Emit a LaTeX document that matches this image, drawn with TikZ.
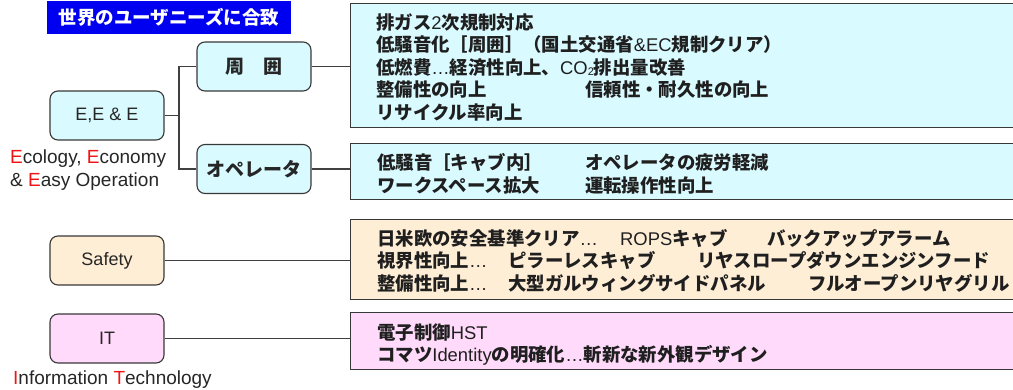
\documentclass[tikz,border=0pt]{standalone}
\usepackage{fontspec}
\setmainfont{Liberation Sans}
\newfontfamily\jpf{Noto Sans CJK JP}
\newfontfamily\latf{Liberation Sans}
\newcommand\latx[1]{{\latf\mdseries #1}}
\newcommand\subtwo{\raisebox{-1pt}{\fontsize{11}{11}\selectfont 2}}
\definecolor{cyanbg}{RGB}{217,250,255}
\definecolor{peachbg}{RGB}{255,238,214}
\definecolor{pinkbg}{RGB}{255,218,250}
\definecolor{titleblue}{RGB}{0,0,240}
\definecolor{redE}{RGB}{240,20,20}
\tikzset{
  rbox/.style={draw=black!78, line width=1.1pt, rounded corners=8pt, minimum width=114pt, minimum height=49pt, inner sep=0pt, text=black!85},
  wbox/.style={draw=black!78, line width=1.1pt, anchor=north west, minimum width=700pt, inner sep=0pt},
  conn/.style={draw=black!75, line width=1.1pt},
  jt/.style={anchor=base west, inner sep=0pt, text=black!88, font=\jpf\bfseries\fontsize{18.4}{22.5}\selectfont},
  lab/.style={anchor=base west, inner sep=0pt, text=black!85, font=\latf\fontsize{19}{23}\selectfont},
  lbl/.style={font=\latf\fontsize{18}{20}\selectfont},
  jlbl/.style={font=\jpf\bfseries\fontsize{19}{20}\selectfont}
}
\begin{document}
\begin{tikzpicture}[x=1pt,y=-1pt]
\useasboundingbox (0,0) rectangle (1013,389);
\clip (0,0) rectangle (1013,389);

% title
\node[fill=titleblue, minimum width=244pt, minimum height=33pt, inner sep=0pt, text=white,
      font=\jpf\bfseries\fontsize{18.5}{20}\selectfont] (title) at (169,17.5) {世界のユーザニーズに合致};

% right boxes
\node[wbox, fill=cyanbg, minimum height=124pt] (r1) at (350,3) {};
\node[wbox, fill=cyanbg, minimum height=56pt] (r2) at (350,143) {};
\node[wbox, fill=peachbg, minimum height=80pt] (r3) at (350,219) {};
\node[wbox, fill=pinkbg, minimum height=57pt] (r4) at (350,312) {};

% left boxes
\node[rbox, fill=cyanbg, lbl] (eee) at (107,115.5) {E,E \& E};
\node[rbox, fill=cyanbg, jlbl] (zhou) at (254,66.5) {周　囲};
\node[rbox, fill=cyanbg, jlbl] (ope) at (254,169) {オペレータ};
\node[rbox, fill=peachbg, lbl] (safe) at (107,260.5) {Safety};
\node[rbox, fill=pinkbg, lbl] (it) at (107,338.5) {IT};

% connectors
\coordinate (br) at (179,115.5);
\draw[conn] (eee.east) -- (br);
\draw[conn] (zhou.west) -| (br) |- (ope.west);
\draw[conn] (zhou.east) -- (zhou.east -| r1.west);
\draw[conn] (ope.east) -- (ope.east -| r2.west);
\draw[conn] (safe.east) -- (safe.east -| r3.west);
\draw[conn] (it.east) -- (it.east -| r4.west);

% side captions
\node[lab] (eco1) at (10,163) {\textcolor{redE}{E}cology, \textcolor{redE}{E}conomy};
\node[lab] (eco2) at (10,186) {\& \textcolor{redE}{E}asy Operation};
\node[lab] (info) at (13,384) {\textcolor{redE}{I}nformation \textcolor{redE}{T}echnology};

% box 1 text
\node[jt] (a1) at (376,29) {排ガス\latx{2}次規制対応};
\node[jt] (a2) at (376,51.5) {低騒音化［周囲］（国土交通省\latx{\&EC}規制クリア）};
\node[jt] (a3) at (376,74) {低燃費\latx{…}経済性向上、\latx{CO\subtwo}排出量改善};
\node[jt] (a4) at (376,96.5) {\makebox[209pt][l]{整備性の向上}信頼性・耐久性の向上};
\node[jt] (a5) at (376,119) {リサイクル率向上};

% box 2 text
\node[jt] (b1) at (377,169) {\makebox[208pt][l]{低騒音［キャブ内］}オペレータの疲労軽減};
\node[jt] (b2) at (377,192) {\makebox[208pt][l]{ワークスペース拡大}運転操作性向上};

% safety text
\node[jt] (c1) at (377,245) {\makebox[243pt][l]{日米欧の安全基準クリア\latx{…}}\makebox[147pt][l]{\latx{ROPS}キャブ}バックアップアラーム};
\node[jt] (c2) at (377,267.5) {\makebox[131pt][l]{視界性向上\latx{…}}\makebox[189pt][l]{ピラーレスキャブ}リヤスロープダウンエンジンフード};
\node[jt] (c3) at (377,290) {\makebox[131pt][l]{整備性向上\latx{…}}\makebox[300pt][l]{大型ガルウィングサイドパネル}フルオープンリヤグリル};

% IT text
\node[jt] (d1) at (377,339) {電子制御\latx{HST}};
\node[jt] (d2) at (377,361) {コマツ\latx{Identity}の明確化\latx{…}斬新な新外観デザイン};
\end{tikzpicture}
\end{document}
